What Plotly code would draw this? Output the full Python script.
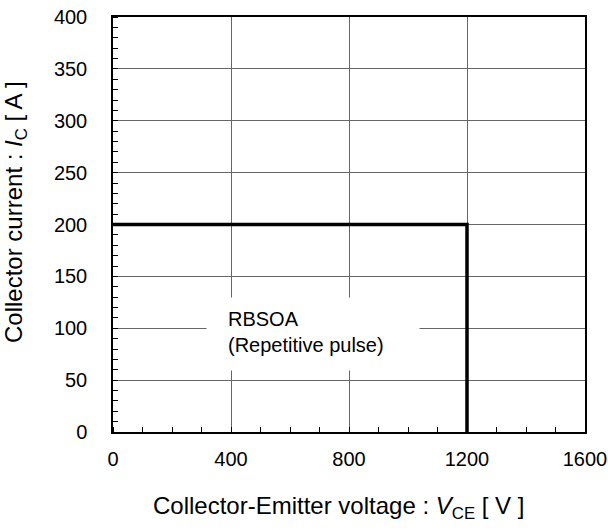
import plotly.graph_objects as go

# Data
vce = [0, 1200, 1200]          # V
ic = [200, 200, 0]             # A
x_ticks = [0, 400, 800, 1200, 1600]
y_ticks = [0, 50, 100, 150, 200, 250, 300, 350, 400]
label_text = "RBSOA<br>(Repetitive pulse)"
x_title = "Collector-Emitter voltage : <i>V</i><sub>CE</sub> [ V ]"
y_title = "Collector current : <i>I</i><sub>C</sub> [ A ]"

FONT = "Arial, Liberation Sans, sans-serif"

W, H = 608, 530
ML, MR, MT, MB = 113, 23, 17, 98
PW, PH = W - ML - MR, H - MT - MB


def px_to_paper_x(px):
    return (px - ML) / PW


def px_to_paper_y(py):
    return (H - MB - py) / PH


fig = go.Figure()
fig.add_trace(go.Scatter(x=vce, y=ic, mode="lines",
                         line=dict(color="black", width=3.5),
                         showlegend=False, hoverinfo="skip"))

# white box behind the label (covers grid)
fig.add_annotation(x=315, y=130, xref="x", yref="y", xanchor="left", yanchor="top",
                   text=" ", showarrow=False, bgcolor="white",
                   width=212, height=72, borderpad=0)
fig.add_annotation(x=382, y=121, xref="x", yref="y", xanchor="left", yanchor="top",
                   text=label_text, showarrow=False, align="left",
                   font=dict(family=FONT, size=20, color="black"))

# axis titles
fig.add_annotation(x=px_to_paper_x(338), y=px_to_paper_y(507), xref="paper", yref="paper",
                   xanchor="center", yanchor="middle", text=x_title, showarrow=False,
                   font=dict(family=FONT, size=24, color="black"))
fig.add_annotation(x=px_to_paper_x(16), y=px_to_paper_y(212), xref="paper", yref="paper",
                   xanchor="center", yanchor="middle", text=y_title, showarrow=False,
                   textangle=-90, font=dict(family=FONT, size=24, color="black"))

axis_common = dict(showline=True, linecolor="black", linewidth=1.5, mirror=True,
                   showgrid=True, gridcolor="#666666", gridwidth=1,
                   zeroline=False, ticks="", automargin=False,
                   ticklabeloverflow="allow",
                   tickfont=dict(family=FONT, size=20, color="black"))

fig.update_xaxes(range=[0, 1600], tickvals=x_ticks, ticktext=[str(v) for v in x_ticks],
                 minor=dict(dtick=100, tick0=0, ticks="inside", ticklen=5,
                            tickcolor="black", tickwidth=1, showgrid=False),
                 ticklabelstandoff=8, **axis_common)
fig.update_yaxes(range=[0, 400], tickvals=y_ticks, ticktext=[str(v) for v in y_ticks],
                 minor=dict(dtick=10, tick0=0, ticks="inside", ticklen=5,
                            tickcolor="black", tickwidth=1, showgrid=False),
                 ticklabelstandoff=20, **axis_common)

fig.update_layout(width=W, height=H,
                  margin=dict(l=ML, r=MR, t=MT, b=MB),
                  paper_bgcolor="white", plot_bgcolor="white",
                  font=dict(family=FONT, size=20, color="black"))

fig.write_html("out.html", config={"displayModeBar": False},
               post_script="document.body.style.margin='0px';document.body.style.overflow='hidden';")
